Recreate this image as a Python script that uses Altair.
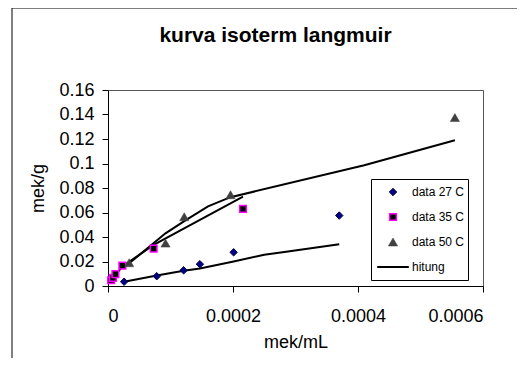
import altair as alt
import pandas as pd

# measured data (mek/mL, mek/g)
x_27 = [2.58e-5, 7.8e-5, 1.21e-4, 1.47e-4, 2.01e-4, 3.70e-4]
y_27 = [0.0035, 0.008, 0.0128, 0.0178, 0.0275, 0.0575]
x_35 = [5.0e-6, 7.8e-6, 1.19e-5, 2.3e-5, 7.3e-5, 2.16e-4]
y_35 = [0.0047, 0.0067, 0.0097, 0.0167, 0.0305, 0.063]
x_50 = [3.39e-5, 9.2e-5, 1.22e-4, 1.96e-4, 5.55e-4]
y_50 = [0.019, 0.035, 0.0565, 0.0745, 0.1375]

# calculated (hitung) curves
fit_x_27 = [2.58e-5, 7.8e-5, 1.21e-4, 1.47e-4, 2.01e-4, 2.5e-4, 2.85e-4, 3.70e-4]
fit_y_27 = [0.0035, 0.0085, 0.0125, 0.0143, 0.0200, 0.0255, 0.028, 0.034]
fit_x_35 = [5.0e-6, 7.8e-6, 1.19e-5, 2.3e-5, 7.3e-5, 2.16e-4]
fit_y_35 = [0.0035, 0.0058, 0.0088, 0.016, 0.0335, 0.073]
fit_x_50 = [3.39e-5, 9.2e-5, 1.22e-4, 1.6e-4, 1.96e-4, 4.1e-4, 5.55e-4]
fit_y_50 = [0.0185, 0.043, 0.053, 0.065, 0.0725, 0.0985, 0.119]

series_names = ["data 27 C", "data 35 C", "data 50 C", "hitung"]
x_ticks = [0, 0.0002, 0.0004, 0.0006]
y_ticks = [0, 0.02, 0.04, 0.06, 0.08, 0.10, 0.12, 0.14, 0.16]

pts = pd.concat([
    pd.DataFrame({"x": x_27, "y": y_27, "series": "data 27 C"}),
    pd.DataFrame({"x": x_35, "y": y_35, "series": "data 35 C"}),
    pd.DataFrame({"x": x_50, "y": y_50, "series": "data 50 C"}),
], ignore_index=True)

fits = pd.concat([
    pd.DataFrame({"x": fit_x_27, "y": fit_y_27, "curve": "27", "series": "hitung"}),
    pd.DataFrame({"x": fit_x_35, "y": fit_y_35, "curve": "35", "series": "hitung"}),
    pd.DataFrame({"x": fit_x_50, "y": fit_y_50, "curve": "50", "series": "hitung"}),
], ignore_index=True)
fits["order"] = range(len(fits))

FONT = "Liberation Sans"

xenc = alt.X("x:Q", title="mek/mL",
             scale=alt.Scale(domain=[0, 0.0006], nice=False),
             axis=alt.Axis(values=x_ticks, tickCount=len(x_ticks), format="~g", grid=False,
                           labelFontSize=18, titleFontSize=18,
                           labelPadding=15, tickSize=6, labelOverlap=False,
                           titleBaseline="alphabetic", titleY=61))
yenc = alt.Y("y:Q", title="mek/g",
             scale=alt.Scale(domain=[0, 0.16], nice=False),
             axis=alt.Axis(values=y_ticks, tickCount=len(y_ticks), format="~g", grid=False,
                           labelFontSize=18, titleFontSize=18,
                           labelPadding=8, tickSize=6, labelOverlap=False,
                           titleBaseline="alphabetic", titleX=-65))

legend = alt.Legend(
    title=None, orient="none", legendX=263, legendY=89,
    strokeColor="#000000", fillColor="#ffffff", padding=3,
    labelFontSize=12, labelFont=FONT, rowPadding=5, clipHeight=20,
    symbolOffset=2, labelOffset=2,
)

points = alt.Chart(pts).mark_point(filled=False, opacity=1).encode(
    x=xenc, y=yenc,
    shape=alt.Shape("series:N", scale=alt.Scale(domain=series_names,
                    range=["diamond", "square", "triangle-up", "stroke"]), legend=legend),
    fill=alt.Fill("series:N", scale=alt.Scale(domain=series_names,
                  range=["#000080", "#000000", "#404040", "transparent"]), legend=legend),
    stroke=alt.Stroke("series:N", scale=alt.Scale(domain=series_names,
                      range=["#000050", "#ff00ff", "#404040", "#000000"]), legend=legend),
    strokeWidth=alt.StrokeWidth("series:N", scale=alt.Scale(type="ordinal", domain=series_names,
                                range=[1, 1.5, 0.5, 2]), legend=legend),
    size=alt.Size("series:N", scale=alt.Scale(type="ordinal", domain=series_names,
                  range=[55, 45, 85, 1000]), legend=legend),
)

lines = alt.Chart(fits).mark_line(color="#000000", strokeWidth=2).encode(
    x="x:Q", y="y:Q", detail="curve:N", order="order:Q"
)

frame_df = pd.DataFrame({"a": [0]})
frame_top = alt.Chart(frame_df).mark_rule(color="#000000", strokeWidth=1, clip=False).encode(
    x=alt.value(-96), x2=alt.value(700), y=alt.value(-82))
frame_left = alt.Chart(frame_df).mark_rule(color="#000000", strokeWidth=1, clip=False).encode(
    x=alt.value(-96), y=alt.value(-82), y2=alt.value(600))

chart = alt.layer(frame_top, frame_left, lines, points).properties(
    width=375, height=196,
    title=alt.TitleParams("kurva isoterm langmuir", font=FONT, fontSize=21,
                          fontWeight="bold", anchor="middle", dx=-20, dy=55,
                          baseline="alphabetic", offset=0, color="#000000"),
    autosize=alt.AutoSizeParams(type="none"),
    padding={"left": 100, "top": 82, "right": 34, "bottom": 72},
).configure_view(stroke="#555555", strokeWidth=1).configure_axis(
    labelFont=FONT, titleFont=FONT, titleFontWeight="normal",
    labelColor="#000000", titleColor="#000000",
    domainColor="#000000", tickColor="#000000"
)

chart.save("out.html", embed_options={"renderer": "svg", "actions": False})
